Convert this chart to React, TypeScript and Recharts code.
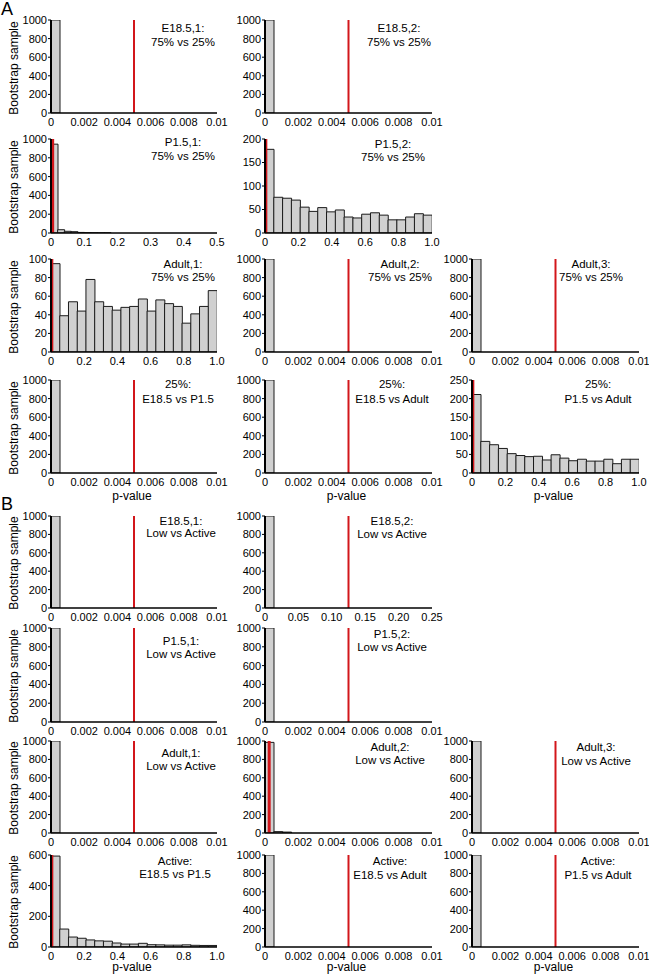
import React from 'react';
import { BarChart, Bar, XAxis, YAxis, ReferenceLine } from 'recharts';

const FONT = '"Liberation Sans", Arial, sans-serif';

// ---------- tick labels ----------
const xTicksSmall = [0, 0.002, 0.004, 0.006, 0.008, 0.01];
const xTicksUnit = [0, 0.2, 0.4, 0.6, 0.8, 1.0];
const xTicksHalf = [0, 0.1, 0.2, 0.3, 0.4, 0.5];
const xTicksQuarter = [0, 0.05, 0.1, 0.15, 0.2, 0.25];
const yTicks1000 = [0, 200, 400, 600, 800, 1000];
const yTicks200 = [0, 50, 100, 150, 200];
const yTicks100 = [0, 20, 40, 60, 80, 100];
const yTicks250 = [0, 50, 100, 150, 200, 250];
const yTicks600 = [0, 200, 400, 600];

// ---------- bootstrap histogram counts (one value per bin) ----------
const allInFirstBin = [1000, 0, 0, 0, 0, 0, 0, 0, 0, 0, 0, 0, 0, 0, 0, 0, 0, 0, 0];
const aP15_1 = [945, 35, 18, 14, 6, 3, 2, 1, 1, 0, 0, 0, 0, 0, 0, 0, 0, 0, 0, 0, 0, 0, 0, 0, 0];
const aP15_2 = [178, 76, 74, 70, 55, 46, 54, 45, 49, 34, 32, 40, 43, 38, 28, 28, 34, 41, 38];
const aAdult_1 = [95, 39, 54, 44, 78, 54, 49, 45, 48, 49, 57, 44, 56, 52, 49, 31, 41, 49, 66];
const a25_P15vsAdult = [211, 85, 76, 66, 52, 47, 44, 45, 35, 49, 40, 33, 37, 32, 32, 37, 25, 37, 37];
const bAdult_2 = [985, 15, 10, 0, 0, 0, 0, 0, 0, 0, 0, 0, 0, 0, 0, 0, 0, 0, 0];
const bActive_E185vsP15 = [593, 117, 65, 57, 46, 40, 38, 26, 19, 19, 24, 15, 14, 12, 12, 14, 11, 10, 10];

// ---------- panel titles ----------
const titlesA = [
  ['E18.5,1:', '75% vs 25%'],
  ['E18.5,2:', '75% vs 25%'],
  ['P1.5,1:', '75% vs 25%'],
  ['P1.5,2:', '75% vs 25%'],
  ['Adult,1:', '75% vs 25%'],
  ['Adult,2:', '75% vs 25%'],
  ['Adult,3:', '75% vs 25%'],
  ['25%:', 'E18.5 vs P1.5'],
  ['25%:', 'E18.5 vs Adult'],
  ['25%:', 'P1.5 vs Adult'],
];
const titlesB = [
  ['E18.5,1:', 'Low vs Active'],
  ['E18.5,2:', 'Low vs Active'],
  ['P1.5,1:', 'Low vs Active'],
  ['P1.5,2:', 'Low vs Active'],
  ['Adult,1:', 'Low vs Active'],
  ['Adult,2:', 'Low vs Active'],
  ['Adult,3:', 'Low vs Active'],
  ['Active:', 'E18.5 vs P1.5'],
  ['Active:', 'E18.5 vs Adult'],
  ['Active:', 'P1.5 vs Adult'],
];

// ---------- layout ----------
const COLS = [
  { left: 51, width: 166 },
  { left: 265, width: 167 },
  { left: 472, width: 167 },
];
const ROWS = [
  { top: 20, height: 93 },
  { top: 139, height: 94 },
  { top: 259, height: 93 },
  { top: 380, height: 93 },
  { top: 516, height: 92 },
  { top: 628, height: 94 },
  { top: 741, height: 92 },
  { top: 855, height: 92 },
];

const fmtSmall = (v: number) => (v === 0 ? '0' : String(+v.toFixed(3)));
const fmt1 = (v: number) => (v === 0 ? '0' : v.toFixed(1));
const fmt2 = (v: number) => (v === 0 ? '0' : v.toFixed(2));

const S = { xMax: 0.01, xTicks: xTicksSmall, fmt: fmtSmall, red: 0.005, redW: 2 };
const U = { xMax: 1, xTicks: xTicksUnit, fmt: fmt1, red: 0.005, redW: 3 };

const panels = [
  { row: 0, col: 0, bins: allInFirstBin, yMax: 1000, yTicks: yTicks1000, ...S, title: titlesA[0], tx: 183, ty: [29, 43] },
  { row: 0, col: 1, bins: allInFirstBin, yMax: 1000, yTicks: yTicks1000, ...S, title: titlesA[1], tx: 399, ty: [29, 43] },
  { row: 1, col: 0, bins: aP15_1, yMax: 1000, yTicks: yTicks1000, xMax: 0.5, xTicks: xTicksHalf, fmt: fmt1, red: 0.005, redW: 3, title: titlesA[2], tx: 183, ty: [143, 157] },
  { row: 1, col: 1, bins: aP15_2, yMax: 200, yTicks: yTicks200, ...U, title: titlesA[3], tx: 393, ty: [145, 158] },
  { row: 2, col: 0, bins: aAdult_1, yMax: 100, yTicks: yTicks100, ...U, title: titlesA[4], tx: 183, ty: [265, 278] },
  { row: 2, col: 1, bins: allInFirstBin, yMax: 1000, yTicks: yTicks1000, ...S, title: titlesA[5], tx: 400, ty: [265, 278] },
  { row: 2, col: 2, bins: allInFirstBin, yMax: 1000, yTicks: yTicks1000, ...S, title: titlesA[6], tx: 591, ty: [265, 278] },
  { row: 3, col: 0, bins: allInFirstBin, yMax: 1000, yTicks: yTicks1000, ...S, title: titlesA[7], tx: 178, ty: [385, 400] },
  { row: 3, col: 1, bins: allInFirstBin, yMax: 1000, yTicks: yTicks1000, ...S, title: titlesA[8], tx: 392, ty: [385, 400] },
  { row: 3, col: 2, bins: a25_P15vsAdult, yMax: 250, yTicks: yTicks250, ...U, title: titlesA[9], tx: 598, ty: [385, 400] },
  { row: 4, col: 0, bins: allInFirstBin, yMax: 1000, yTicks: yTicks1000, ...S, title: titlesB[0], tx: 181, ty: [522, 534] },
  { row: 4, col: 1, bins: allInFirstBin, yMax: 1000, yTicks: yTicks1000, xMax: 0.25, xTicks: xTicksQuarter, fmt: fmt2, red: 0.125, redW: 2, title: titlesB[1], tx: 392, ty: [522, 535] },
  { row: 5, col: 0, bins: allInFirstBin, yMax: 1000, yTicks: yTicks1000, ...S, title: titlesB[2], tx: 181, ty: [642, 655] },
  { row: 5, col: 1, bins: allInFirstBin, yMax: 1000, yTicks: yTicks1000, ...S, title: titlesB[3], tx: 392, ty: [635, 648] },
  { row: 6, col: 0, bins: allInFirstBin, yMax: 1000, yTicks: yTicks1000, ...S, title: titlesB[4], tx: 181, ty: [754, 767] },
  { row: 6, col: 1, bins: bAdult_2, yMax: 1000, yTicks: yTicks1000, ...S, red: 0.00025, redW: 3, title: titlesB[5], tx: 390, ty: [748, 761] },
  { row: 6, col: 2, bins: allInFirstBin, yMax: 1000, yTicks: yTicks1000, ...S, title: titlesB[6], tx: 596, ty: [748, 762] },
  { row: 7, col: 0, bins: bActive_E185vsP15, yMax: 600, yTicks: yTicks600, ...U, title: titlesB[7], tx: 175, ty: [862, 875] },
  { row: 7, col: 1, bins: allInFirstBin, yMax: 1000, yTicks: yTicks1000, ...S, title: titlesB[8], tx: 390, ty: [862, 876] },
  { row: 7, col: 2, bins: allInFirstBin, yMax: 1000, yTicks: yTicks1000, ...S, title: titlesB[9], tx: 598, ty: [862, 876] },
];

const ML = 40;
const MR = 16;
const MT = 10;
const XH = 20;

function Panel({ p }: { p: any }) {
  const col = COLS[p.col];
  const row = ROWS[p.row];
  const binW = p.xMax / p.bins.length;
  const data = p.bins.map((v: number, i: number) => ({ x: (i + 0.5) * binW, v }));
  return (
    <div style={{ position: 'absolute', left: col.left - ML, top: row.top - MT }}>
      <BarChart
        width={col.width + ML + MR}
        height={row.height + MT + XH}
        data={data}
        margin={{ top: MT, right: MR, bottom: 0, left: 0 }}
        barCategoryGap={0}
        barGap={0}
      >
        <XAxis
          dataKey="x"
          type="number"
          domain={[0, p.xMax]}
          ticks={p.xTicks}
          allowDataOverflow
          interval={0}
          tickFormatter={p.fmt}
          tickLine={false}
          tickSize={3}
          tickMargin={2}
          height={XH}
          axisLine={{ stroke: '#000', strokeWidth: 1.5 }}
          tick={{ fill: '#000', fontSize: 11, fontFamily: FONT }}
        />
        <YAxis
          type="number"
          domain={[0, p.yMax]}
          ticks={p.yTicks}
          allowDataOverflow
          interval={0}
          width={ML}
          tickSize={3}
          tickMargin={1}
          axisLine={{ stroke: '#000', strokeWidth: 2 }}
          tickLine={{ stroke: '#000', strokeWidth: 1 }}
          tick={{ fill: '#000', fontSize: 11, fontFamily: FONT }}
        />
        <Bar dataKey="v" fill="#d0d0d0" stroke="#1a1a1a" strokeWidth={1} isAnimationActive={false} />
        <ReferenceLine x={p.red} stroke="#d2161b" strokeWidth={p.redW} />
      </BarChart>
    </div>
  );
}

const textStyle: React.CSSProperties = {
  position: 'absolute',
  transform: 'translate(-50%, -50%)',
  whiteSpace: 'nowrap',
  fontFamily: FONT,
  fontSize: 11.5,
  color: '#000',
  lineHeight: 1,
};

export default function App() {
  return (
    <div style={{ position: 'absolute', left: 0, top: 0, width: 649, height: 974, overflow: 'hidden', background: '#fff' }}>
      {panels.map((p, k) => (
        <Panel key={k} p={p} />
      ))}
      {panels.map((p, k) => (
        <React.Fragment key={'t' + k}>
          <div style={{ ...textStyle, left: p.tx, top: p.ty[0] }}>{p.title[0]}</div>
          <div style={{ ...textStyle, left: p.tx, top: p.ty[1] }}>{p.title[1]}</div>
        </React.Fragment>
      ))}
      {ROWS.map((r, k) => (
        <div
          key={'y' + k}
          style={{ ...textStyle, fontSize: 12, left: 14, top: r.top + r.height / 2 + 1, transform: 'translate(-50%, -50%) rotate(-90deg)' }}
        >
          Bootstrap sample
        </div>
      ))}
      {[496, 967].map((y, k) =>
        COLS.map((c, j) => (
          <div key={'p' + k + j} style={{ ...textStyle, fontSize: 12, left: c.left + c.width / 2 - 2, top: y }}>
            p-value
          </div>
        ))
      )}
      <div style={{ ...textStyle, transform: 'none', fontSize: 18, left: 1, top: 0 }}>A</div>
      <div style={{ ...textStyle, transform: 'none', fontSize: 18, left: 1, top: 495 }}>B</div>
    </div>
  );
}
